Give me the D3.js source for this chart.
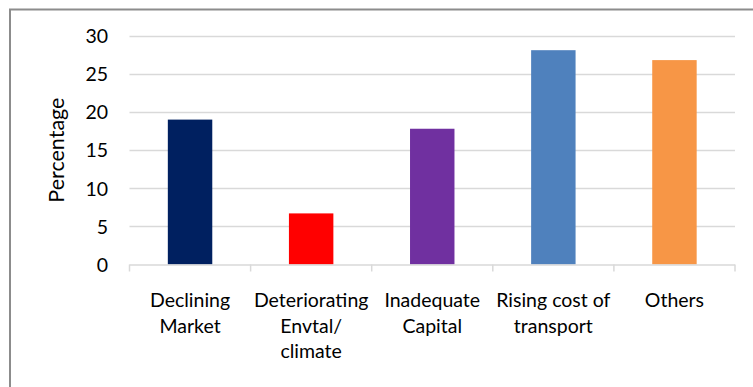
<!DOCTYPE html>
<html>
<head>
<meta charset="utf-8">
<script src="https://cdn.jsdelivr.net/npm/d3@7"></script>
<style>
  html, body { margin: 0; padding: 0; background: #fff; }
  svg { display: block; }
  text { font-family: Lato, "Open Sans", sans-serif; fill: #000; }
</style>
</head>
<body>
<svg id="chart" width="753" height="387"></svg>
<script>
// Reasons reported, share of respondents (%)
const categories = ["Declining Market", "Deteriorating Envtal/ climate", "Inadequate Capital", "Rising cost of transport", "Others"];
const categoryLines = [["Declining", "Market"], ["Deteriorating", "Envtal/", "climate"], ["Inadequate", "Capital"], ["Rising cost of", "transport"], ["Others"]];
const values = [19.0, 6.7, 17.8, 28.1, 26.8];
const barColors = ["#002060", "#FF0000", "#7030A0", "#4F81BD", "#F79646"];
const yTicks = [0, 5, 10, 15, 20, 25, 30];

const svg = d3.select("#chart");
const W = 753, H = 387;
const plot = { left: 129.5, right: 735, top: 35.7, bottom: 264.5 };

// outer chart frame (runs past the right and bottom edges)
svg.append("rect")
  .attr("x", 10).attr("y", 9.5)
  .attr("width", W + 10).attr("height", H + 10)
  .attr("fill", "none").attr("stroke", "#8c8c8c").attr("stroke-width", 2);

const y = d3.scaleLinear().domain([0, 30]).range([plot.bottom, plot.top]);
const xCat = d3.scaleBand().domain(categories).range([plot.left, plot.right]).padding(0);
const xBar = d3.scaleBand().domain(categories).range([plot.left, plot.right])
  .paddingInner(0.633).paddingOuter(0.633 / 2);

// horizontal gridlines
svg.append("g")
  .selectAll("line")
  .data(yTicks.filter(d => d > 0))
  .join("line")
  .attr("x1", plot.left).attr("x2", plot.right)
  .attr("y1", d => Math.round(y(d)) + 0.5).attr("y2", d => Math.round(y(d)) + 0.5)
  .attr("stroke", "#d9d9d9").attr("stroke-width", 1.5);

// y axis tick labels
const yAxis = d3.axisLeft(y).tickValues(yTicks).tickSize(0).tickPadding(0);
const gy = svg.append("g").attr("transform", `translate(108,0)`).call(yAxis);
gy.select(".domain").remove();
gy.selectAll("text")
  .style("font-family", "Lato, 'Open Sans', sans-serif")
  .style("font-size", "19.5px").attr("fill", "#000")
  .attr("dy", "0.35em");

// y axis title
svg.append("text")
  .attr("transform", `translate(64,${(plot.top + plot.bottom) / 2}) rotate(-90)`)
  .attr("text-anchor", "middle")
  .style("font-size", "21.5px")
  .text("Percentage");

// bars
svg.append("g")
  .selectAll("rect")
  .data(categories)
  .join("rect")
  .attr("x", d => xBar(d))
  .attr("width", xBar.bandwidth())
  .attr("y", (d, i) => y(values[i]))
  .attr("height", (d, i) => y(0) - y(values[i]))
  .attr("fill", (d, i) => barColors[i]);

// category axis: baseline + boundary ticks
const xAxisG = svg.append("g");
xAxisG.append("line")
  .attr("x1", plot.left).attr("x2", plot.right)
  .attr("y1", plot.bottom + 0.5).attr("y2", plot.bottom + 0.5)
  .attr("stroke", "#d9d9d9").attr("stroke-width", 1.5);
const bounds = categories.map(c => xCat(c)).concat([plot.right]);
xAxisG.selectAll("line.tick")
  .data(bounds)
  .join("line").attr("class", "tick")
  .attr("x1", d => d).attr("x2", d => d)
  .attr("y1", plot.bottom).attr("y2", plot.bottom + 7)
  .attr("stroke", "#d9d9d9").attr("stroke-width", 1.5);

// category labels
const labels = svg.append("g")
  .selectAll("text")
  .data(categories)
  .join("text")
  .attr("text-anchor", "middle")
  .style("font-size", "19.5px");
labels.each(function(d, i) {
  const t = d3.select(this);
  categoryLines[i].forEach((line, j) => {
    t.append("tspan")
      .attr("x", xCat(d) + xCat.bandwidth() / 2)
      .attr("y", 307 + j * 25.5)
      .text(line);
  });
});
</script>
</body>
</html>
